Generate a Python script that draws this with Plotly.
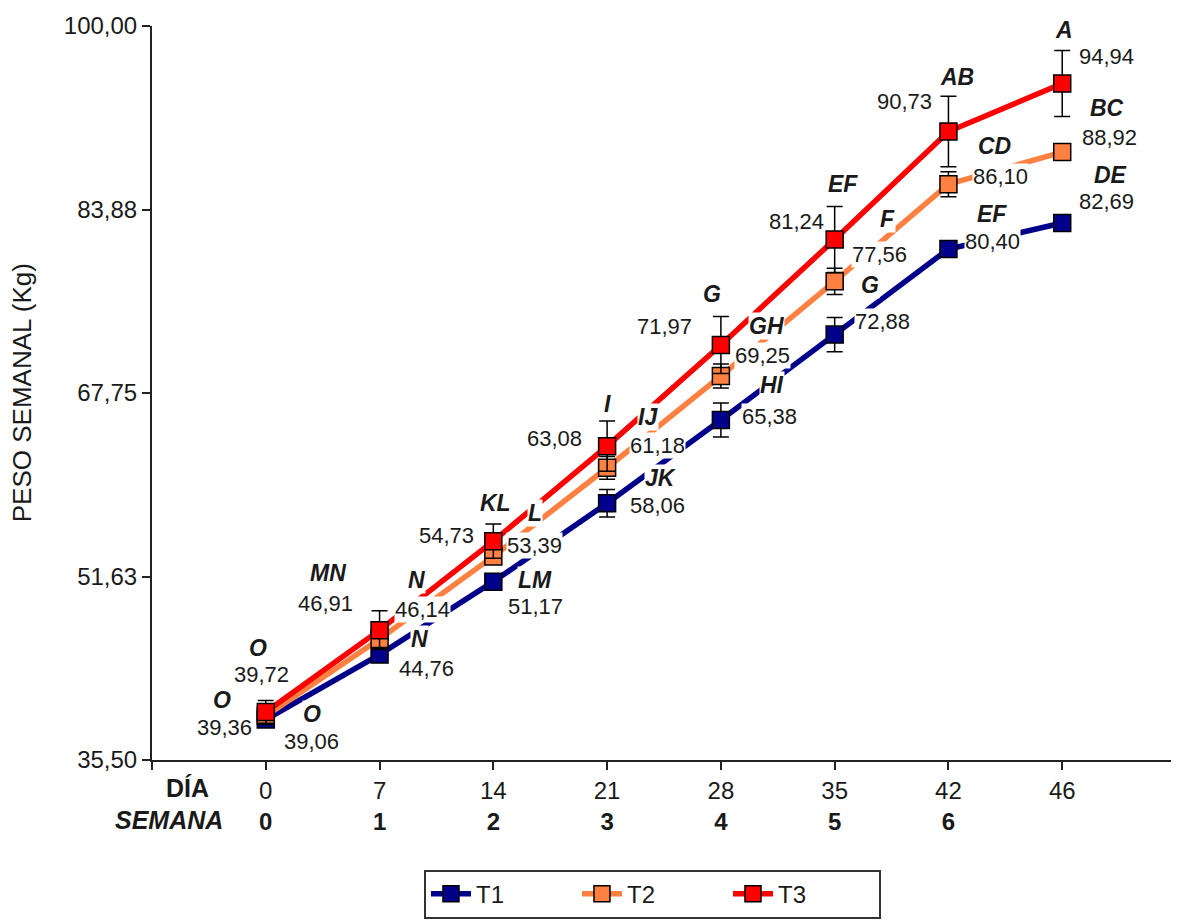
import plotly.graph_objects as go

# ---------------- data ----------------
days = ["0", "7", "14", "21", "28", "35", "42", "46"]
weeks = ["0", "1", "2", "3", "4", "5", "6", ""]
series_names = ["T1", "T2", "T3"]

t1_values = [39.06, 44.76, 51.17, 58.06, 65.38, 72.88, 80.40, 82.69]
t2_values = [39.36, 46.14, 53.39, 61.18, 69.25, 77.56, 86.10, 88.92]
t3_values = [39.72, 46.91, 54.73, 63.08, 71.97, 81.24, 90.73, 94.94]

t1_errors = [0.5, 0.5, 0.4, 1.2, 1.5, 1.5, 0.7, 0.7]
t2_errors = [0.45, 0.8, 0.6, 1.0, 1.05, 1.15, 1.1, 0.3]
t3_errors = [1.0, 1.7, 1.5, 2.2, 2.5, 2.9, 3.1, 2.9]

t1_letters = ["O", "N", "LM", "JK", "HI", "G", "EF", "DE"]
t2_letters = ["O", "N", "L", "IJ", "GH", "F", "CD", "BC"]
t3_letters = ["O", "MN", "KL", "I", "G", "EF", "AB", "A"]

y_tick_values = [35.50, 51.625, 67.75, 83.875, 100.00]
y_tick_labels = ["35,50", "51,63", "67,75", "83,88", "100,00"]

# ---------------- styles / label offsets (pixels) ----------------
colors = {"T1": "#00008B", "T2": "#FF8040", "T3": "#FF0000"}
TEXT = "#1a1a1a"
FONT = "Liberation Sans, Arial, sans-serif"

# (dx, dy) offsets of letter and number labels relative to each point
t1_letter_off = [(46, 5), (40, 16), (42, 2), (53, 25), (51, 35), (35, 50), (44, 35), (48, 48)]
t1_num_off = [(46, -22), (47, -14), (42, -25), (50, -2), (49, 3), (48, 13), (44, 8), (44, 21)]
t2_letter_off = [(-44, 16), (37, 59), (42, 43), (41, 51), (46, 50), (53, 62), (46, 38), (45, 44)]
t2_num_off = [(-41, -11), (43, 29), (41, 11), (50, 22), (42, 20), (45, 27), (52, 8), (47, 15)]
t3_letter_off = [(-8, 64), (-52, 57), (2, 38), (0, 42), (-9, 51), (8, 55), (9, 54), (2, 54)]
t3_num_off = [(-4, 37), (-54, 27), (-47, 6), (-53, 8), (-56, 18), (-38, 18), (-44, 30), (44, 27)]

xs = list(range(len(days)))

fig = go.Figure()

series = [
    ("T1", t1_values, t1_errors),
    ("T2", t2_values, t2_errors),
    ("T3", t3_values, t3_errors),
]
for name, vals, errs in series:
    fig.add_trace(go.Scatter(
        x=xs, y=vals, name=name, mode="lines+markers",
        line=dict(color=colors[name], width=5.5),
        marker=dict(symbol="square", size=17, color=colors[name],
                    line=dict(color="black", width=1.5)),
        error_y=dict(type="data", array=errs, visible=True,
                     color="black", thickness=1.5, width=8),
    ))

def fmt(v):
    return f"{v:.2f}".replace(".", ",")

annotations = []
label_sets = [
    (t1_values, t1_letters, t1_letter_off, t1_num_off),
    (t2_values, t2_letters, t2_letter_off, t2_num_off),
    (t3_values, t3_letters, t3_letter_off, t3_num_off),
]
for vals, letters, loff, noff in label_sets:
    for i, v in enumerate(vals):
        annotations.append(dict(
            x=xs[i], y=v, xref="x", yref="y", showarrow=False,
            text=f"<b><i>{letters[i]}</i></b>", xshift=loff[i][0], yshift=loff[i][1],
            font=dict(family=FONT, size=23, color=TEXT),
            bgcolor="white", borderpad=0))
        annotations.append(dict(
            x=xs[i], y=v, xref="x", yref="y", showarrow=False,
            text=fmt(v), xshift=noff[i][0], yshift=noff[i][1],
            font=dict(family=FONT, size=22, color=TEXT),
            bgcolor="white", borderpad=0))

# row titles under x axis
annotations.append(dict(x=-0.69, y=-0.038, xref="x", yref="paper", showarrow=False,
                        text="<b>DÍA</b>", yanchor="middle",
                        font=dict(family=FONT, size=25, color=TEXT)))
annotations.append(dict(x=-0.85, y=-0.082, xref="x", yref="paper", showarrow=False,
                        text="<b><i>SEMANA</i></b>", yanchor="middle",
                        font=dict(family=FONT, size=25, color=TEXT)))
# y axis title
annotations.append(dict(x=-0.127, y=0.501, xref="paper", yref="paper", showarrow=False,
                        text="PESO SEMANAL (Kg)", textangle=-90,
                        xanchor="center", yanchor="middle",
                        font=dict(family=FONT, size=26, color=TEXT)))

tick_vals_x = [-1] + xs + [len(xs)]
tick_text_x = [""] + [f"{d}<br><b>{w}</b>" for d, w in zip(days, weeks)] + [""]

fig.update_layout(
    width=1179, height=922,
    margin=dict(l=144, r=11, t=18, b=168),
    plot_bgcolor="white", paper_bgcolor="white",
    font=dict(family=FONT, color=TEXT),
    showlegend=True,
    legend=dict(orientation="h", x=0.2656, xanchor="left", y=-0.1495, yanchor="top",
                bordercolor="#333", borderwidth=2, font=dict(size=24, family=FONT),
                entrywidth=96, itemwidth=40),
    annotations=annotations,
    xaxis=dict(range=[-1, len(xs)], tickvals=tick_vals_x, ticktext=tick_text_x,
               showline=True, linecolor="#222", linewidth=2, mirror=False,
               ticks="outside", ticklen=8, tickwidth=2, tickcolor="#222",
               showgrid=False, zeroline=False, automargin=False,
               tickfont=dict(family=FONT, size=24, color=TEXT)),
    yaxis=dict(range=[35.5, 100], tickvals=y_tick_values, ticktext=y_tick_labels,
               showline=True, linecolor="#222", linewidth=2,
               ticks="outside", ticklen=8, tickwidth=2, tickcolor="#222",
               showgrid=False, zeroline=False, automargin=False,
               tickfont=dict(family=FONT, size=24, color=TEXT)),
)

fig.write_html("out.html")
